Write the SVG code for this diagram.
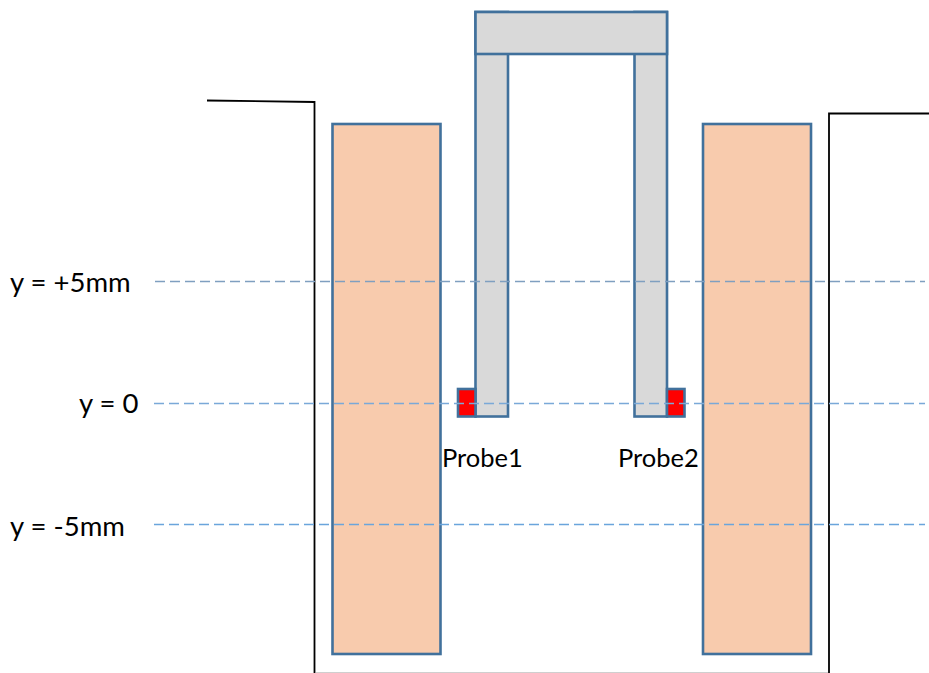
<svg xmlns="http://www.w3.org/2000/svg" width="929" height="673" viewBox="0 0 929 673">
<style>
.box{stroke:#41719c;stroke-width:2.6}
.coil{fill:#f8cbad}
.arm{fill:#d9d9d9}
.probe{fill:#ff0000}
.wall{fill:none;stroke:#000;stroke-width:1.8}
.dash{fill:none;stroke-width:1.4;stroke-dasharray:10 5}
text{font-family:Lato,"Open Sans","Liberation Sans",sans-serif;fill:#000}
.lab{font-size:27.500px}
.pl{font-size:25.500px}
</style>
<rect width="929" height="673" fill="#fff"/>
<g id="vessel">
<path class="wall" d="M207 100.500L314.500 102V673"/>
<path class="wall" d="M829 673V113.500H929"/>
<path d="M316 672.500H828" stroke="#cfcfcf" stroke-width="1" fill="none"/>
</g>
<g id="coil-left"><rect class="box coil" x="332.500" y="124" width="108" height="530"/></g>
<g id="coil-right"><rect class="box coil" x="703" y="124" width="108" height="530"/></g>
<g id="arm-left"><rect class="box arm" x="475.500" y="12" width="32.500" height="404.500"/></g>
<g id="arm-right"><rect class="box arm" x="634.500" y="12" width="32.500" height="404.500"/></g>
<g id="bridge"><rect class="box arm" x="475.500" y="12" width="191.500" height="42"/></g>
<g id="probe1"><rect class="box probe" x="458" y="389" width="17.500" height="27.500"/>
<text class="pl" x="442" y="467">Probe1</text></g>
<g id="probe2"><rect class="box probe" x="667" y="389" width="17.500" height="27.500"/>
<text class="pl" x="618" y="467">Probe2</text></g>
<g id="connectors">
<path class="dash" stroke="#7f9fc0" d="M155 281.500H925"/>
<path class="dash" stroke="#7aa9d8" d="M154 403.500H925"/>
<path class="dash" stroke="#6aa5dc" d="M154 524.500H925"/>
</g>
<g id="labels">
<text class="lab" x="10" y="292">y = +5mm</text>
<text class="lab" x="79" y="413">y = 0</text>
<text class="lab" x="10" y="536">y = -5mm</text>
</g>
</svg>
